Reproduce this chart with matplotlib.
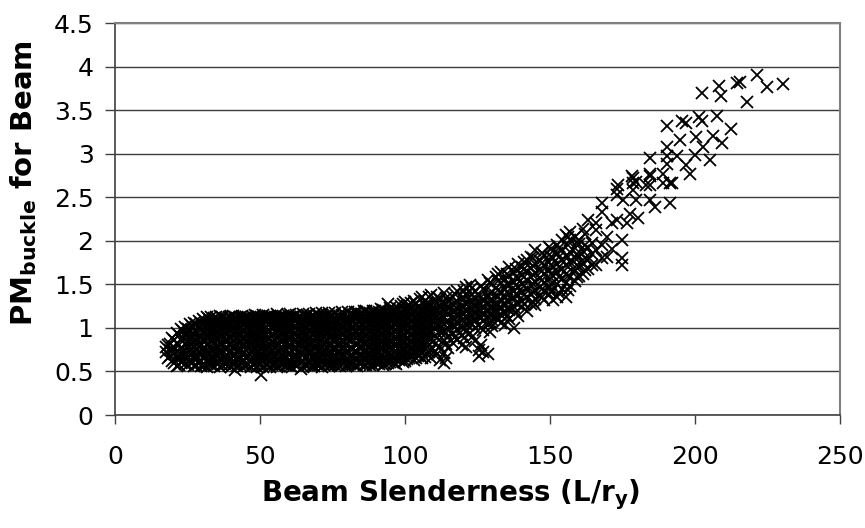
"""
Beam slenderness vs PM_buckle scatter (Excel-style chart).
"""

import numpy as np
import matplotlib
matplotlib.use("Agg")
import matplotlib.pyplot as plt

plt.rcParams["font.family"] = ["DejaVu Sans"]
plt.rcParams["mathtext.fontset"] = "dejavusans"

# dense band, one column of readings per slenderness value
band_cols = [
    (17.5, [0.72, 0.78]),
    (19.0, [0.68, 0.82, 0.75]),
    (20.5, [0.60, 0.70, 0.86, 0.78]),
    (22.0, [0.58, 0.65, 0.92, 0.80, 0.72]),
    (23.5, [0.62, 0.74, 0.88, 0.97, 0.68]),
    (25.0, [0.57, 0.66, 0.79, 0.85, 0.99, 0.93, 0.71]),
    (26.5, [0.60, 0.70, 0.82, 0.90, 1.02, 0.76]),
    (28.0, [0.58, 0.64, 0.75, 0.87, 0.95, 1.04, 0.69]),
    (29.5, [0.62, 0.72, 0.80, 0.91, 1.06, 0.98, 0.56]),
    (31.0, [0.57, 0.67, 0.77, 0.85, 0.94, 1.02, 1.08, 0.73]),
    (32.5, [0.60, 0.70, 0.81, 0.89, 0.97, 1.05, 1.10, 0.64]),
    (34.0, [0.56, 0.65, 0.74, 0.83, 0.92, 1.00, 1.07, 1.11]),
    (35.5, [0.59, 0.68, 0.78, 0.87, 0.95, 1.03, 1.09, 0.72]),
    (37.0, [0.57, 0.63, 0.71, 0.80, 0.90, 0.98, 1.06, 1.12]),
    (38.5, [0.60, 0.69, 0.76, 0.85, 0.93, 1.01, 1.10, 0.65]),
    (40.0, [0.55, 0.64, 0.73, 0.82, 0.88, 0.96, 1.04, 1.12]),
    (41.5, [0.52, 0.61, 0.70, 0.79, 0.87, 0.95, 1.02, 1.09, 1.13]),
    (43.0, [0.58, 0.66, 0.75, 0.84, 0.92, 1.00, 1.07, 1.12]),
    (44.5, [0.56, 0.63, 0.72, 0.81, 0.89, 0.97, 1.05, 1.11]),
    (46.0, [0.59, 0.68, 0.77, 0.86, 0.94, 1.02, 1.08, 1.13]),
    (47.5, [0.57, 0.65, 0.74, 0.83, 0.91, 0.99, 1.06, 1.12]),
    (49.0, [0.55, 0.62, 0.71, 0.80, 0.88, 0.96, 1.04, 1.10, 1.14]),
    (50.5, [0.46, 0.60, 0.69, 0.78, 0.86, 0.94, 1.01, 1.08, 1.13]),
    (52.0, [0.57, 0.66, 0.75, 0.84, 0.92, 1.00, 1.07, 1.12]),
    (53.5, [0.55, 0.63, 0.72, 0.81, 0.89, 0.97, 1.05, 1.11, 1.14]),
    (55.0, [0.58, 0.68, 0.77, 0.86, 0.95, 1.03, 1.09, 1.13]),
    (56.5, [0.56, 0.64, 0.73, 0.82, 0.90, 0.98, 1.06, 1.12]),
    (58.0, [0.59, 0.67, 0.76, 0.85, 0.93, 1.01, 1.08, 1.14]),
    (59.5, [0.57, 0.62, 0.70, 0.79, 0.88, 0.96, 1.04, 1.10, 1.15]),
    (61.0, [0.55, 0.65, 0.74, 0.83, 0.91, 0.99, 1.06, 1.13]),
    (62.5, [0.58, 0.68, 0.77, 0.86, 0.94, 1.02, 1.09, 1.15]),
    (64.0, [0.53, 0.61, 0.71, 0.80, 0.89, 0.97, 1.05, 1.12]),
    (65.5, [0.57, 0.66, 0.75, 0.84, 0.92, 1.00, 1.08, 1.14]),
    (67.0, [0.59, 0.63, 0.72, 0.81, 0.90, 0.98, 1.06, 1.11, 1.16]),
    (68.5, [0.56, 0.67, 0.76, 0.85, 0.93, 1.01, 1.09, 1.14]),
    (70.0, [0.58, 0.64, 0.73, 0.82, 0.91, 0.99, 1.07, 1.15]),
    (71.5, [0.55, 0.62, 0.70, 0.79, 0.88, 0.96, 1.04, 1.12, 1.17]),
    (73.0, [0.59, 0.68, 0.77, 0.86, 0.94, 1.02, 1.10, 1.15]),
    (74.5, [0.57, 0.65, 0.74, 0.83, 0.92, 1.00, 1.08, 1.13]),
    (76.0, [0.58, 0.66, 0.75, 0.87, 0.95, 1.03, 1.11, 1.17]),
    (77.5, [0.56, 0.63, 0.71, 0.80, 0.89, 0.97, 1.05, 1.14]),
    (79.0, [0.60, 0.69, 0.78, 0.84, 0.93, 1.01, 1.09, 1.16]),
    (80.5, [0.57, 0.65, 0.73, 0.82, 0.90, 0.98, 1.07, 1.13, 1.18]),
    (82.0, [0.59, 0.67, 0.76, 0.92, 1.00, 1.08, 1.15]),
    (83.5, [0.56, 0.64, 0.72, 0.81, 0.88, 0.96, 1.04, 1.12, 1.18]),
    (85.0, [0.60, 0.69, 0.78, 0.86, 0.94, 1.02, 1.10, 1.16]),
    (86.5, [0.58, 0.66, 0.74, 0.83, 0.91, 0.99, 1.07, 1.14, 1.19]),
    (88.0, [0.57, 0.63, 0.71, 0.80, 0.89, 0.97, 1.05, 1.12, 1.17]),
    (89.5, [0.61, 0.68, 0.77, 0.85, 0.93, 1.01, 1.09, 1.15, 1.20]),
    (91.0, [0.59, 0.65, 0.73, 0.82, 0.90, 0.98, 1.06, 1.13, 1.18]),
    (92.5, [0.58, 0.67, 0.76, 0.84, 0.92, 1.00, 1.08, 1.16, 1.21]),
    (94.0, [0.60, 0.70, 0.79, 0.87, 0.95, 1.03, 1.11, 1.18, 1.28]),
    (95.5, [0.62, 0.69, 0.75, 0.83, 0.91, 0.99, 1.07, 1.14, 1.20]),
    (97.0, [0.59, 0.66, 0.73, 0.81, 0.89, 0.97, 1.05, 1.12, 1.19, 1.24]),
    (98.5, [0.64, 0.72, 0.80, 0.88, 0.96, 1.04, 1.11, 1.17, 1.25]),
    (100.0, [0.62, 0.75, 0.84, 0.92, 1.00, 1.08, 1.15, 1.22, 1.30]),
    (101.5, [0.66, 0.71, 0.79, 0.87, 0.95, 1.03, 1.10, 1.18, 1.26]),
    (103.0, [0.63, 0.74, 0.82, 0.90, 0.98, 1.06, 1.13, 1.21, 1.31]),
    (104.5, [0.68, 0.77, 0.86, 0.94, 1.02, 1.09, 1.16, 1.24]),
    (106.0, [0.65, 0.72, 0.80, 0.89, 0.97, 1.05, 1.12, 1.20, 1.36]),
    (107.5, [0.70, 0.78, 0.84, 0.92, 1.00, 1.08, 1.15, 1.23, 1.29]),
    (109.0, [0.66, 0.75, 0.87, 0.95, 1.03, 1.11, 1.18, 1.26, 1.38]),
]

# second pass over the band, readings sitting between the columns above
band_cols_b = [
    (18.2, [0.65, 0.80]),
    (19.8, [0.62, 0.74, 0.88]),
    (21.2, [0.56, 0.67, 0.83, 0.94]),
    (22.8, [0.61, 0.70, 0.77, 0.86, 0.99]),
    (24.2, [0.59, 0.68, 0.81, 0.92, 1.01]),
    (25.8, [0.63, 0.74, 0.87, 0.96, 1.04]),
    (27.2, [0.56, 0.67, 0.79, 0.84, 0.93, 1.06]),
    (28.8, [0.60, 0.71, 0.78, 0.90, 1.00, 1.08]),
    (30.2, [0.58, 0.65, 0.76, 0.87, 0.96, 1.04, 1.10]),
    (31.8, [0.55, 0.62, 0.72, 0.81, 0.90, 0.99, 1.06, 1.12]),
    (33.2, [0.58, 0.67, 0.76, 0.85, 0.94, 1.03, 1.13]),
    (34.8, [0.61, 0.70, 0.79, 0.89, 0.98, 1.06, 1.12]),
    (36.2, [0.55, 0.64, 0.74, 0.83, 0.92, 1.00, 1.08, 1.14]),
    (37.8, [0.59, 0.67, 0.76, 0.86, 0.95, 1.03, 1.10]),
    (39.2, [0.57, 0.62, 0.72, 0.80, 0.90, 0.99, 1.07, 1.13]),
    (40.8, [0.59, 0.68, 0.77, 0.85, 0.93, 1.00, 1.08, 1.14]),
    (42.2, [0.56, 0.64, 0.73, 0.82, 0.90, 0.98, 1.05, 1.11]),
    (43.8, [0.60, 0.70, 0.79, 0.87, 0.96, 1.04, 1.10, 1.14]),
    (45.2, [0.58, 0.66, 0.75, 0.84, 0.92, 1.00, 1.07, 1.13]),
    (46.8, [0.55, 0.63, 0.72, 0.80, 0.89, 0.97, 1.04, 1.10]),
    (48.2, [0.59, 0.68, 0.77, 0.86, 0.94, 1.02, 1.09, 1.15]),
    (49.8, [0.57, 0.65, 0.74, 0.83, 0.91, 0.99, 1.06, 1.12]),
    (51.2, [0.55, 0.63, 0.72, 0.81, 0.89, 0.97, 1.05, 1.11, 1.15]),
    (52.8, [0.59, 0.68, 0.78, 0.87, 0.95, 1.03, 1.09, 1.14]),
    (54.2, [0.57, 0.66, 0.75, 0.84, 0.93, 1.01, 1.08, 1.13]),
    (55.8, [0.55, 0.62, 0.70, 0.79, 0.88, 0.96, 1.04, 1.11, 1.16]),
    (57.2, [0.60, 0.69, 0.78, 0.87, 0.95, 1.03, 1.10, 1.14]),
    (58.8, [0.58, 0.65, 0.73, 0.82, 0.91, 0.99, 1.06, 1.12]),
    (60.2, [0.56, 0.63, 0.71, 0.80, 0.89, 0.97, 1.05, 1.12, 1.16]),
    (61.8, [0.59, 0.67, 0.76, 0.85, 0.93, 1.01, 1.09, 1.14]),
    (63.2, [0.57, 0.64, 0.73, 0.82, 0.90, 0.98, 1.06, 1.12]),
    (64.8, [0.55, 0.62, 0.69, 0.78, 0.87, 0.95, 1.03, 1.10, 1.16]),
    (66.2, [0.58, 0.68, 0.77, 0.86, 0.94, 1.02, 1.09, 1.15]),
    (67.8, [0.56, 0.65, 0.74, 0.83, 0.92, 1.00, 1.07, 1.13]),
    (69.2, [0.59, 0.62, 0.70, 0.79, 0.88, 0.96, 1.04, 1.11, 1.17]),
    (70.8, [0.57, 0.66, 0.75, 0.85, 0.94, 1.02, 1.09, 1.14]),
    (72.2, [0.58, 0.64, 0.72, 0.81, 0.90, 0.98, 1.06, 1.13]),
    (73.8, [0.56, 0.62, 0.70, 0.79, 0.88, 0.97, 1.05, 1.12, 1.17]),
    (75.2, [0.59, 0.68, 0.77, 0.86, 0.94, 1.02, 1.09, 1.15]),
    (76.8, [0.57, 0.65, 0.73, 0.82, 0.91, 0.99, 1.07, 1.13]),
    (78.2, [0.58, 0.67, 0.76, 0.84, 0.92, 1.00, 1.08, 1.15, 1.18]),
    (79.8, [0.56, 0.63, 0.71, 0.80, 0.88, 0.96, 1.04, 1.11]),
    (81.2, [0.59, 0.68, 0.77, 0.86, 0.95, 1.03, 1.10, 1.16]),
    (82.8, [0.57, 0.65, 0.74, 0.95, 1.04, 1.12, 1.18]),
    (84.2, [0.60, 0.68, 0.77, 0.85, 0.93, 1.01, 1.08, 1.14]),
    (85.8, [0.57, 0.64, 0.72, 0.81, 0.89, 0.97, 1.05, 1.12, 1.19]),
    (87.2, [0.60, 0.69, 0.78, 0.87, 0.95, 1.03, 1.10, 1.16]),
    (88.8, [0.58, 0.66, 0.74, 0.83, 0.91, 0.99, 1.07, 1.14, 1.20]),
    (90.2, [0.60, 0.63, 0.71, 0.80, 0.88, 0.96, 1.04, 1.11, 1.17]),
    (91.8, [0.62, 0.69, 0.78, 0.86, 0.94, 1.02, 1.10, 1.16, 1.22]),
    (93.2, [0.59, 0.66, 0.74, 0.82, 0.90, 0.98, 1.06, 1.13, 1.19]),
    (94.8, [0.61, 0.68, 0.77, 0.85, 0.93, 1.01, 1.09, 1.16, 1.23]),
    (96.2, [0.60, 0.65, 0.72, 0.80, 0.88, 0.96, 1.04, 1.11, 1.18]),
    (97.8, [0.63, 0.70, 0.78, 0.86, 0.94, 1.02, 1.09, 1.15, 1.22]),
    (99.2, [0.61, 0.68, 0.76, 0.84, 0.92, 1.00, 1.07, 1.14, 1.21, 1.27]),
    (100.8, [0.64, 0.73, 0.81, 0.89, 0.97, 1.05, 1.12, 1.19, 1.25]),
    (102.2, [0.67, 0.76, 0.84, 0.92, 1.00, 1.08, 1.15, 1.23, 1.29]),
    (103.8, [0.65, 0.71, 0.79, 0.88, 0.96, 1.04, 1.11, 1.19, 1.27]),
    (105.2, [0.69, 0.74, 0.83, 0.91, 0.99, 1.07, 1.14, 1.22, 1.33]),
    (106.8, [0.67, 0.76, 0.86, 0.94, 1.02, 1.10, 1.17, 1.25, 1.31]),
    (108.2, [0.72, 0.80, 0.89, 0.97, 1.05, 1.13, 1.20, 1.28, 1.35]),
]

# transition, where the band starts to climb
rise_cols = [
    (110.5, [0.74, 0.82, 0.91, 0.99, 1.07, 1.14, 1.22, 1.30]),
    (111.2, [0.70, 0.88, 1.02, 1.12, 1.20, 1.28, 1.35]),
    (112.0, [0.63, 0.78, 0.95, 1.03, 1.10, 1.17, 1.25, 1.33]),
    (113.5, [0.60, 0.71, 0.86, 0.97, 1.05, 1.13, 1.21, 1.28, 1.40]),
    (114.2, [0.66, 0.82, 0.94, 1.07, 1.18, 1.26, 1.34]),
    (115.0, [0.77, 0.90, 1.00, 1.08, 1.16, 1.23, 1.31]),
    (116.5, [0.83, 0.94, 1.03, 1.11, 1.19, 1.27, 1.36]),
    (117.2, [0.90, 1.01, 1.10, 1.20, 1.29, 1.39]),
    (118.0, [0.86, 0.98, 1.06, 1.14, 1.22, 1.30, 1.42]),
    (119.5, [0.80, 0.92, 1.01, 1.09, 1.17, 1.25, 1.34]),
    (120.2, [0.88, 0.99, 1.07, 1.16, 1.24, 1.33, 1.43]),
    (121.0, [0.78, 0.95, 1.04, 1.12, 1.20, 1.28, 1.38, 1.47]),
    (122.5, [0.94, 1.07, 1.15, 1.23, 1.31, 1.49]),
    (123.2, [0.90, 1.04, 1.13, 1.21, 1.29, 1.38, 1.46]),
    (124.0, [0.85, 1.00, 1.10, 1.18, 1.26, 1.34, 1.42]),
    (125.5, [0.75, 0.68, 1.03, 1.13, 1.21, 1.29, 1.37]),
    (126.2, [0.80, 1.00, 1.11, 1.19, 1.27, 1.35, 1.48]),
    (127.0, [0.72, 0.98, 1.08, 1.16, 1.24, 1.32, 1.45]),
    (128.5, [0.70, 1.05, 1.12, 1.20, 1.28, 1.36, 1.55]),
    (129.2, [0.95, 1.07, 1.15, 1.23, 1.31, 1.40, 1.52]),
    (130.0, [1.02, 1.09, 1.17, 1.25, 1.33, 1.41, 1.50]),
    (131.5, [1.11, 1.20, 1.28, 1.37, 1.46, 1.58]),
    (132.2, [1.09, 1.18, 1.26, 1.35, 1.44, 1.54, 1.62]),
    (133.0, [1.06, 1.15, 1.24, 1.32, 1.41, 1.52, 1.64]),
    (134.5, [1.03, 1.18, 1.27, 1.36, 1.45, 1.56]),
    (135.2, [1.14, 1.23, 1.32, 1.41, 1.51, 1.62]),
    (136.0, [1.10, 1.21, 1.30, 1.39, 1.49, 1.60, 1.70]),
    (137.5, [1.00, 1.24, 1.34, 1.43, 1.53, 1.63]),
    (138.2, [1.18, 1.29, 1.39, 1.49, 1.59, 1.68]),
    (139.0, [1.14, 1.27, 1.38, 1.47, 1.57, 1.74]),
    (140.5, [1.24, 1.31, 1.41, 1.51, 1.61, 1.70]),
    (141.2, [1.28, 1.38, 1.48, 1.58, 1.68, 1.76]),
    (142.0, [1.20, 1.35, 1.45, 1.55, 1.65, 1.78]),
    (143.5, [1.27, 1.39, 1.49, 1.59, 1.69, 1.82]),
    (144.2, [1.30, 1.41, 1.51, 1.61, 1.71, 1.80]),
    (145.0, [1.26, 1.33, 1.43, 1.53, 1.63, 1.73, 1.89]),
    (146.5, [1.37, 1.47, 1.57, 1.67, 1.77]),
    (147.2, [1.35, 1.45, 1.55, 1.65, 1.75, 1.86]),
    (148.0, [1.32, 1.42, 1.52, 1.62, 1.72, 1.84]),
    (149.5, [1.39, 1.46, 1.56, 1.66, 1.76, 1.93]),
    (150.2, [1.41, 1.51, 1.62, 1.72, 1.82, 1.91]),
    (151.0, [1.32, 1.44, 1.60, 1.70, 1.80, 1.88]),
    (152.5, [1.36, 1.50, 1.64, 1.74, 1.86, 1.95]),
    (153.2, [1.40, 1.58, 1.70, 1.81, 1.92]),
    (154.0, [1.45, 1.56, 1.68, 1.78, 1.90, 2.01]),
    (155.5, [1.36, 1.52, 1.62, 1.72, 1.83, 2.07]),
    (156.2, [1.44, 1.60, 1.70, 1.81, 1.95, 2.04]),
    (157.0, [1.48, 1.58, 1.76, 1.87, 2.01, 2.10]),
    (158.5, [1.54, 1.66, 1.80, 1.92, 2.05]),
    (159.2, [1.58, 1.72, 1.85, 1.98]),
    (160.0, [1.60, 1.70, 1.82, 1.96, 2.01]),
    (161.5, [1.62, 1.75, 1.88, 2.14]),
    (162.2, [1.66, 1.80, 1.95, 2.08]),
    (163.0, [1.68, 1.78, 1.92, 2.24]),
    (164.5, [1.72, 1.85, 1.97]),
    (166.0, [1.72, 1.90, 2.12, 2.20]),
    (168.0, [1.80, 1.95, 2.33, 2.43]),
    (169.5, [1.82, 2.05]),
    (171.5, [1.91, 2.20]),
]

# sparse upper tail, individual readings
tail_x = [173.0, 173.0, 173.0, 173.6, 174.7, 174.7, 174.7, 175.3, 176.4, 177.6,
          178.5, 178.5, 178.5, 178.2, 179.5, 179.5, 180.4, 183.0, 184.5, 184.5,
          184.5, 184.5, 184.5, 186.2, 189.0, 189.0, 190.2, 190.2, 190.2, 190.2,
          191.4, 191.4, 192.0, 193.7, 195.0, 195.7, 196.9, 196.9, 198.3, 200.0,
          200.3, 201.5, 202.5, 202.6, 202.9, 205.2, 206.3, 207.5, 208.4, 209.0,
          209.2, 212.3, 214.4, 215.5, 218.0, 221.3, 224.7, 230.2]
tail_y = [2.24, 2.53, 2.60, 2.64, 1.72, 1.80, 2.01, 2.47, 2.20, 2.31,
          2.66, 2.72, 2.58, 2.74, 2.47, 2.68, 2.26, 2.64, 2.47, 2.64,
          2.77, 2.74, 2.95, 2.39, 2.77, 2.66, 2.88, 2.97, 3.08, 3.32,
          2.43, 2.66, 2.66, 2.97, 3.16, 3.38, 2.87, 3.35, 2.77, 2.99,
          3.19, 3.42, 3.38, 3.70, 3.08, 2.93, 3.20, 3.43, 3.78, 3.66,
          3.12, 3.29, 3.81, 3.82, 3.60, 3.90, 3.77, 3.80]

x_ticks = [0, 50, 100, 150, 200, 250]
y_ticks = [0, 0.5, 1, 1.5, 2, 2.5, 3, 3.5, 4, 4.5]

xs, ys = [], []
for x, col in band_cols + band_cols_b + rise_cols:
    xs += [x] * len(col)
    ys += col
xs = np.array(xs + tail_x)
ys = np.array(ys + tail_y)

fig = plt.figure(figsize=(8.65, 5.28), dpi=100)
ax = fig.add_axes([0.133, 0.214, 0.838, 0.742])

ax.plot(xs, ys, "x", color="black", ms=8, mew=1.3, zorder=3)

ax.set_xlim(0, 250)
ax.set_ylim(0, 4.5)
ax.set_xticks(x_ticks)
ax.set_yticks(y_ticks)
ax.set_yticklabels([f"{v:g}" for v in y_ticks])
ax.yaxis.grid(True, color="#3c3c3c", linewidth=1.0)
ax.set_axisbelow(True)

for side in ["top", "right"]:
    ax.spines[side].set_color("#808080")
    ax.spines[side].set_linewidth(1.5)
for side in ["left", "bottom"]:
    ax.spines[side].set_color("#404040")
    ax.spines[side].set_linewidth(1.2)

ax.tick_params(axis="x", length=6.5, width=1, color="#404040", labelsize=18, pad=15)
ax.tick_params(axis="y", length=7, width=1, color="#404040", labelsize=18, pad=8.5)

fig.text(0.027, 0.653, r"PM$_{\mathbf{buckle}}$ for Beam", rotation=90,
         fontsize=21, fontweight="bold", ha="center", va="center")
fig.text(0.521, 0.0625, r"Beam Slenderness (L/r$_{\mathbf{y}}$)",
         fontsize=20, fontweight="bold", ha="center", va="center")

fig.savefig("out.png", dpi=100)
